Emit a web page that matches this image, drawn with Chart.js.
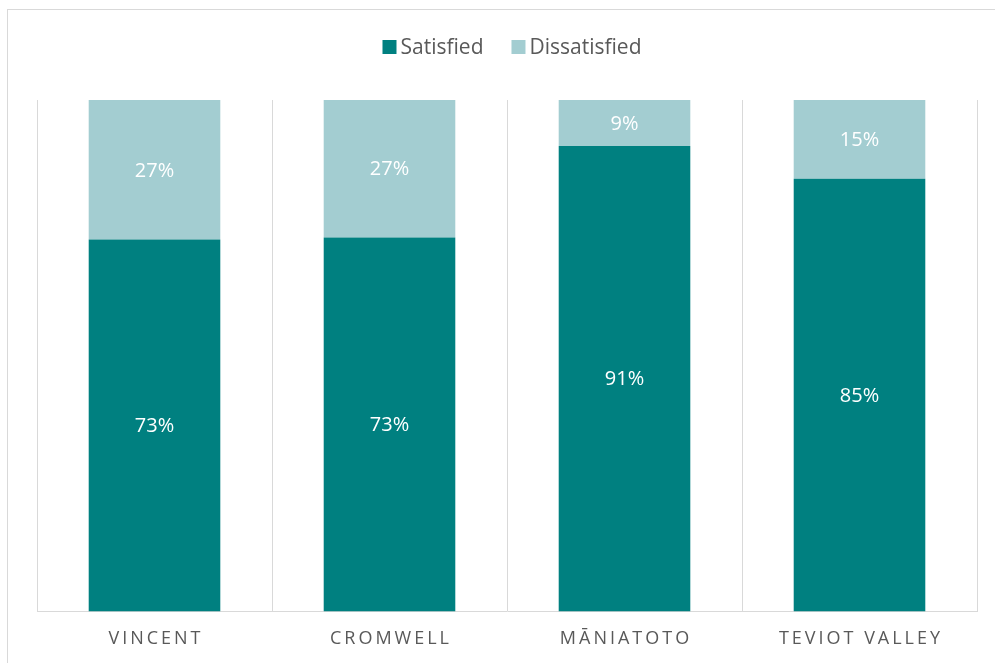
<!DOCTYPE html>
<html>
<head>
<meta charset="utf-8">
<script src="https://cdn.jsdelivr.net/npm/chart.js@4/dist/chart.umd.min.js"></script>
<style>
  html, body { margin: 0; padding: 0; background: #fff; overflow: hidden; }
  #wrap { position: absolute; left: 0; top: 0; width: 995px; height: 663px; }
  #frame { position: absolute; left: 7px; top: 9px; width: 1100px; height: 800px;
           border-left: 1px solid #d9d9d9; border-top: 1px solid #d9d9d9; pointer-events: none; }
</style>
</head>
<body>
<div id="wrap"><canvas id="c" width="995" height="663"></canvas></div>
<div id="frame"></div>
<script>
const categories = ["VINCENT", "CROMWELL", "MĀNIATOTO", "TEVIOT VALLEY"];
const satisfied = [72.7, 73.1, 91.0, 84.6];
const dissatisfied = [27.3, 26.9, 9.0, 15.4];
const seriesNames = ["Satisfied", "Dissatisfied"];

const FONT = "'Open Sans', 'Noto Sans', sans-serif";

const valueLabels = {
  id: 'valueLabels',
  afterDatasetsDraw(chart) {
    const ctx = chart.ctx;
    ctx.save();
    ctx.font = "20px " + FONT;
    ctx.fillStyle = "#ffffff";
    ctx.textAlign = "center";
    ctx.textBaseline = "middle";
    chart.data.datasets.forEach((ds, di) => {
      const meta = chart.getDatasetMeta(di);
      meta.data.forEach((bar, i) => {
        const v = ds.data[i];
        const yc = (bar.y + bar.base) / 2;
        ctx.fillText(Math.round(v) + "%", bar.x, yc + 1);
      });
    });
    ctx.restore();
  }
};

const topLegend = {
  id: 'topLegend',
  afterDraw(chart) {
    const ctx = chart.ctx;
    ctx.save();
    ctx.font = "21px " + FONT;
    ctx.textBaseline = "middle";
    ctx.textAlign = "left";
    const box = 14, gapText = 4, gapItem = 28;
    const items = chart.data.datasets.map(d => ({ text: d.label, color: d.backgroundColor }));
    let total = 0;
    items.forEach((it, i) => {
      it.w = ctx.measureText(it.text).width;
      total += box + gapText + it.w + (i < items.length - 1 ? gapItem : 0);
    });
    let x = 512 - total / 2;
    const yc = 47;
    items.forEach(it => {
      ctx.fillStyle = it.color;
      ctx.fillRect(x, yc - box / 2, box, box);
      x += box + gapText;
      ctx.fillStyle = '#595959';
      ctx.fillText(it.text, x, yc + 1);
      x += it.w + gapItem;
    });
    ctx.restore();
  }
};

new Chart(document.getElementById('c'), {
  type: 'bar',
  data: {
    labels: categories,
    datasets: [
      { label: seriesNames[0], data: satisfied, backgroundColor: '#008080',
        barPercentage: 0.56, categoryPercentage: 1.0 },
      { label: seriesNames[1], data: dissatisfied, backgroundColor: '#a3cdd1',
        barPercentage: 0.56, categoryPercentage: 1.0 }
    ]
  },
  options: {
    responsive: false,
    animation: false,
    layout: { padding: { left: 37, right: 18, top: 100, bottom: -4 } },
    plugins: {
      legend: { display: false },
      tooltip: { enabled: false }
    },
    scales: {
      x: {
        stacked: true,
        grid: { display: true, offset: true, color: '#d9d9d9', lineWidth: 1, drawTicks: false },
        border: { display: true, color: '#d9d9d9' },
        ticks: {
          color: '#595959',
          font: { family: FONT, size: 18 },
          padding: 17,
          callback: function(v, i) { return categories[i].split('').join('\u2009'); }
        }
      },
      y: {
        stacked: true,
        display: false,
        min: 0, max: 100
      }
    }
  },
  plugins: [valueLabels, topLegend]
});
</script>
</body>
</html>
